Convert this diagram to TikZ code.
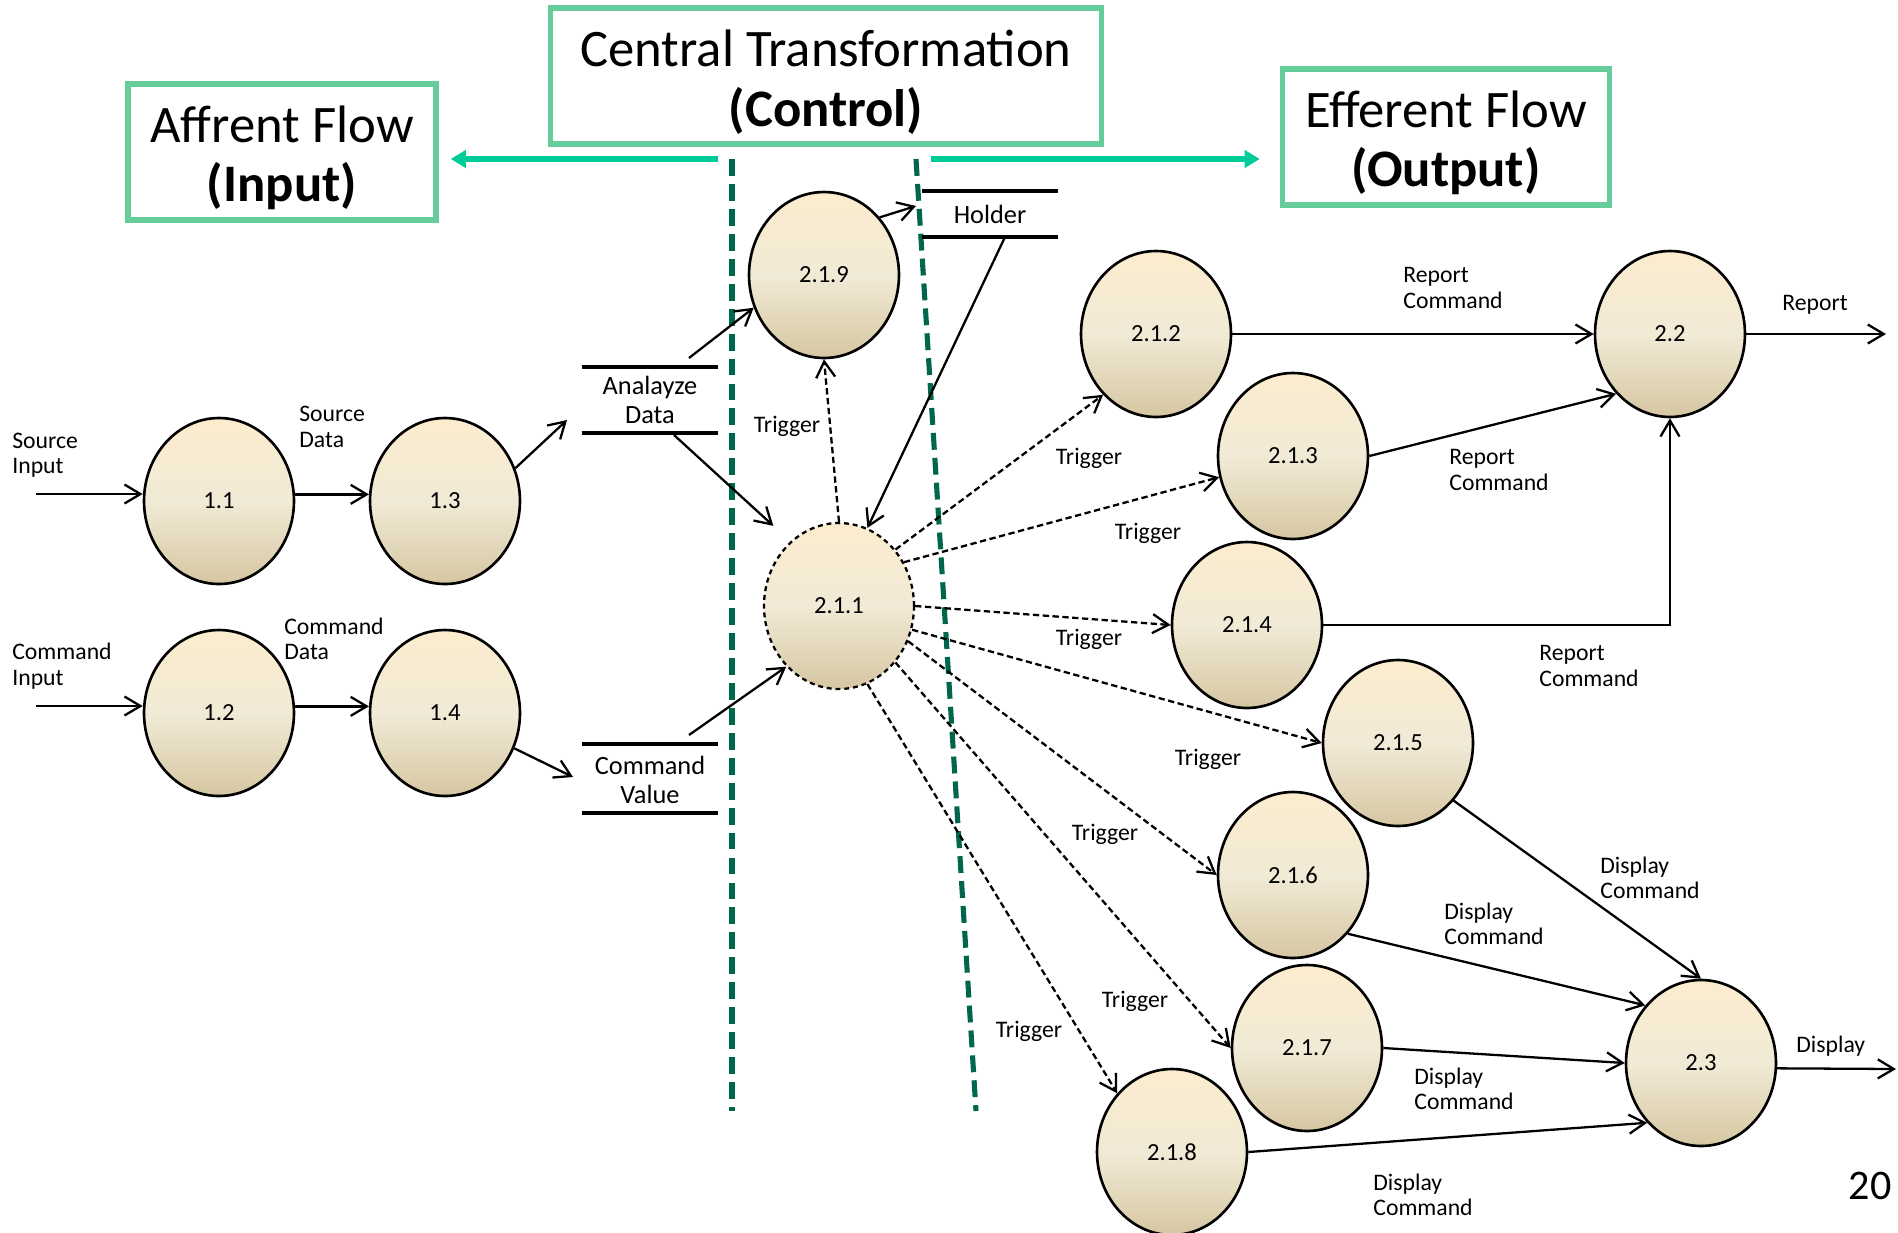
\documentclass[tikz,border=0pt]{standalone}
\usepackage{fontspec}
\setmainfont{Carlito}
\usepackage{tikz}
\usetikzlibrary{arrows.meta,shapes.geometric}
\definecolor{boxgreen}{RGB}{102,204,153}
\definecolor{arrowgreen}{RGB}{0,204,153}
\definecolor{divgreen}{RGB}{0,102,76}
\definecolor{bubtop}{RGB}{252,236,206}
\definecolor{bubmid}{RGB}{241,234,214}
\definecolor{bubbot}{RGB}{214,199,162}
\tikzset{
  bubblestyle/.style={ellipse, draw, line width=1.5pt, minimum width=3cm, minimum height=3.32cm,
    inner sep=0pt, top color=bubtop, bottom color=bubbot, middle color=bubmid,
    font=\fontsize{14}{16}\selectfont},
  storestyle/.style={align=center, inner sep=0pt, minimum width=2.72cm, minimum height=1.32cm,
    font=\fontsize{15}{16.5}\selectfont},
  storeline/.style={line width=2.4pt},
  titlestyle/.style={draw=boxgreen, line width=3.2pt, align=center, minimum height=2.72cm,
    inner sep=0pt, font=\fontsize{30}{34}\selectfont},
  labelstyle/.style={align=left, anchor=west, inner sep=0pt, font=\fontsize{13.5}{14.5}\selectfont},
  edgeflow/.style={line width=1.3pt, -{Straight Barb[length=3.2mm, width=3.8mm, line width=1.3pt]}},
  edgetrigger/.style={edgeflow, dash pattern=on 3.6pt off 2pt},
  sidearrow/.style={arrowgreen, line width=3.4pt, -{Triangle[length=3mm, width=3.4mm]}},
  dividerline/.style={divgreen, line width=2.9pt, dash pattern=on 9.6pt off 4.6pt}
}
\newcommand{\titlestrut}{\rule{0pt}{27.5pt}}

\begin{document}
\begin{tikzpicture}[x=0.02cm, y=-0.02cm]
    \useasboundingbox (0,0) rectangle (1898,1232);
    \clip (0,0) rectangle (1898,1232);
    % ---------------------
    \node[titlestyle, minimum width=6.16cm] (affrent) at (282,152) {\titlestrut Affrent Flow\\\textbf{(Input)}};
    \node[titlestyle, minimum width=11.02cm] (central) at (826,76) {\titlestrut Central Transformation\\\textbf{(Control)}};
    \node[titlestyle, minimum width=6.54cm] (efferent) at (1446,137) {\titlestrut Efferent Flow\\\textbf{(Output)}};
    \coordinate (ctrL) at (718,159);
    \coordinate (ctrR) at (931,159);
    \draw[sidearrow, shorten >=0.24cm] (ctrL) -- (ctrL -| affrent.east);
    \draw[sidearrow, shorten >=0.4cm] (ctrR) -- (ctrR -| efferent.west);
    \draw[dividerline] (732,159) -- (732,1111);
    \draw[dividerline] (916,159) -- (976,1111);
    % ---------------------
    \node[bubblestyle] (p11) at (219,501) {1.1};
    \node[bubblestyle] (p13) at (445,501) {1.3};
    \node[bubblestyle] (p12) at (219,713) {1.2};
    \node[bubblestyle] (p14) at (445,713) {1.4};
    \node[bubblestyle] (p219) at (824,275) {2.1.9};
    \node[bubblestyle, dash pattern=on 2.8pt off 2.2pt, line width=1.3pt] (p211) at (839,606) {2.1.1};
    \node[bubblestyle] (p212) at (1156,334) {2.1.2};
    \node[bubblestyle] (p213) at (1293,456) {2.1.3};
    \node[bubblestyle] (p214) at (1247,625) {2.1.4};
    \node[bubblestyle] (p215) at (1398,743) {2.1.5};
    \node[bubblestyle] (p216) at (1293,875) {2.1.6};
    \node[bubblestyle] (p217) at (1307,1048) {2.1.7};
    \node[bubblestyle] (p218) at (1172,1152) {2.1.8};
    \node[bubblestyle] (p22) at (1670,334) {2.2};
    \node[bubblestyle] (p23) at (1701,1063) {2.3};
    % ---------------------
    \node[storestyle] (data) at (650,400) {Analayze\\Data};
    \node[storestyle] (cmdval) at (650,780) {Command\\Value};
    \node[storestyle, minimum height=0.92cm] (holder) at (990,214) {Holder};
    \draw[storeline]
    (data.north west) -- (data.north east) (data.south west) -- (data.south east)
    ([yshift=0.06cm]cmdval.north west) -- ([yshift=0.06cm]cmdval.north east)
    (cmdval.south west) -- (cmdval.south east)
    (holder.north west) -- (holder.north east) (holder.south west) -- (holder.south east);
    % ---------------------
    \coordinate (srcin) at (36,494);
    \coordinate (cmdin) at (36,706);
    \coordinate (dataIn) at (567,420);
    \coordinate (dataUp) at (689,358);
    \coordinate (dataDown) at (674,435);
    \coordinate (cvIn) at (573,777);
    \coordinate (cvUp) at (689,735);
    \coordinate (holdIn) at (916,206);
    \coordinate (holdDown) at (1005,237);
    \coordinate (repOut) at (1886,334);
    \coordinate (dispOut) at (1896,1069);
    % ---------------------
    \draw
    (srcin) edge[edgeflow] (srcin -| p11.west)
    (cmdin) edge[edgeflow] (cmdin -| p12.west)
    (p11.5) edge[edgeflow] (p13.175)
    (p12.5) edge[edgeflow] (p14.175)
    (p13.25) edge[edgeflow] (dataIn)
    (dataUp) edge[edgeflow] (p219.205)
    (dataDown) edge[edgeflow, shorten >=0.46cm] (p211.127)
    (p14.-27) edge[edgeflow] (cvIn)
    (cvUp) edge[edgeflow] (p211.229)
    (p219.46) edge[edgeflow] (holdIn)
    (holdDown) edge[edgeflow] (p211.70)
    (p212.east) edge[edgeflow] (p22.west)
    (p213.east) edge[edgeflow] (p22.228)
    (p214.east) edge[edgeflow, to path={-| (\tikztotarget)}] (p22.south)
    (p22.east) edge[edgeflow] (repOut)
    (p215.-46) edge[edgeflow] (p23.north)
    (p216.-47) edge[edgeflow] (p23.134)
    (p217.east) edge[edgeflow] (p23.west)
    (p218.east) edge[edgeflow] (p23.228)
    (p23.-4) edge[edgeflow] (dispOut);
    % ---------------------
    \draw
    (p211.north) edge[edgetrigger] (p219.south)
    (p211.45) edge[edgetrigger] (p212.229)
    (p211.34) edge[edgetrigger] (p213.196)
    (p211.east) edge[edgetrigger] (p214.west)
    (p211.-18) edge[edgetrigger] (p215.west)
    (p211.-27) edge[edgetrigger] (p216.west)
    (p211.-45) edge[edgetrigger] (p217.west)
    (p211.-70) edge[edgetrigger] (p218.133);
    % ---------------------
    \node[labelstyle] (lSrcIn) at (12,455) {Source\\Input};
    \node[labelstyle] (lSrcData) at (299,427) {Source\\Data};
    \node[labelstyle] (lCmdIn) at (12,666) {Command\\Input};
    \node[labelstyle] (lCmdData) at (284,639) {Command\\Data};
    \node[labelstyle, anchor=center] (t1) at (787,426) {Trigger};
    \node[labelstyle, anchor=center] (t2) at (1089,458) {Trigger};
    \node[labelstyle, anchor=center] (t3) at (1148,533) {Trigger};
    \node[labelstyle, anchor=center] (t4) at (1089,639) {Trigger};
    \node[labelstyle, anchor=center] (t5) at (1208,759) {Trigger};
    \node[labelstyle, anchor=center] (t6) at (1105,834) {Trigger};
    \node[labelstyle, anchor=center] (t7) at (1135,1001) {Trigger};
    \node[labelstyle, anchor=center] (t8) at (1029,1031) {Trigger};
    \node[labelstyle] (rc1) at (1403,288) {Report\\Command};
    \node[labelstyle] (rc2) at (1449,470) {Report\\Command};
    \node[labelstyle] (rc3) at (1539,666) {Report\\Command};
    \node[labelstyle] (lRep) at (1782,305) {Report};
    \node[labelstyle] (dc5) at (1600,878) {Display\\Command};
    \node[labelstyle] (dc6) at (1444,924) {Display\\Command};
    \node[labelstyle] (dc7) at (1414,1089) {Display\\Command};
    \node[labelstyle] (dc8) at (1373,1195) {Display\\Command};
    \node[labelstyle] (lDisp) at (1796,1046) {Display};
    \node[labelstyle, anchor=east, font=\fontsize{24}{28}\selectfont] (pageno) at (1892,1186) {20};
\end{tikzpicture}
\end{document}
